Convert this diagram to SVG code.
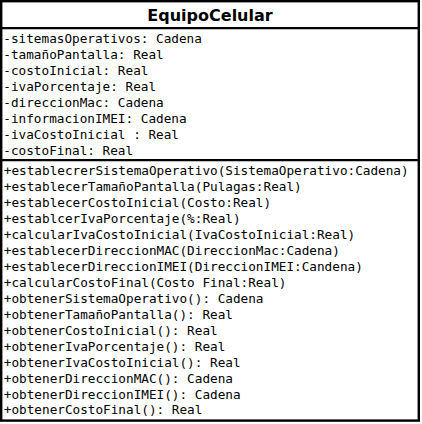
<svg xmlns="http://www.w3.org/2000/svg" width="422" height="424" viewBox="0 0 422 424">
<style>
.box{fill:#fff;stroke:#000;stroke-width:2.4}
.sep{stroke:#000;stroke-width:2.2}
.title{font-family:"DejaVu Sans",sans-serif;font-weight:bold;font-size:16px;fill:#000}
.mem{font-family:"DejaVu Sans Mono","Liberation Mono",monospace;font-size:12.7px;fill:#000}
</style>
<rect width="422" height="424" fill="#fff"/>
<g id="EquipoCelular">
<rect class="box" x="1.2" y="1.2" width="417.6" height="419.4"/>
<line class="sep" x1="1" y1="28.2" x2="419" y2="28.2"/>
<line class="sep" x1="1" y1="160.2" x2="419" y2="160.2"/>
<text class="title" x="210" y="20.5" text-anchor="middle">EquipoCelular</text>
<g class="mem">
<text x="3.3" y="43.3">-sitemasOperativos: Cadena</text>
<text x="3.3" y="59.3">-tamañoPantalla: Real</text>
<text x="3.3" y="75.3">-costoInicial: Real</text>
<text x="3.3" y="91.3">-ivaPorcentaje: Real</text>
<text x="3.3" y="107.3">-direccionMac: Cadena</text>
<text x="3.3" y="123.3">-informacionIMEI: Cadena</text>
<text x="3.3" y="139.3">-ivaCostoInicial : Real</text>
<text x="3.3" y="155.3">-costoFinal: Real</text>
<text x="3.8" y="175">+establecrerSistemaOperativo(SistemaOperativo:Cadena)</text>
<text x="3.8" y="191">+establecerTamañoPantalla(Pulagas:Real)</text>
<text x="3.8" y="207">+establecerCostoInicial(Costo:Real)</text>
<text x="3.8" y="223">+establcerIvaPorcentaje(%:Real)</text>
<text x="3.8" y="239">+calcularIvaCostoInicial(IvaCostoInicial:Real)</text>
<text x="3.8" y="255">+establecerDireccionMAC(DireccionMac:Cadena)</text>
<text x="3.8" y="271">+establecerDireccionIMEI(DireccionIMEI:Candena)</text>
<text x="3.8" y="287">+calcularCostoFinal(Costo Final:Real)</text>
<text x="3.8" y="302.5">+obtenerSistemaOperativo(): Cadena</text>
<text x="3.8" y="318.5">+obtenerTamañoPantalla(): Real</text>
<text x="3.8" y="334.5">+obtenerCostoInicial(): Real</text>
<text x="3.8" y="350.5">+obtenerIvaPorcentaje(): Real</text>
<text x="3.8" y="366.5">+obtenerIvaCostoInicial(): Real</text>
<text x="3.8" y="382.5">+obtenerDireccionMAC(): Cadena</text>
<text x="3.8" y="398.5">+obtenerDireccionIMEI(): Cadena</text>
<text x="3.8" y="414">+obtenerCostoFinal(): Real</text>
</g>
</g>
<g id="connectors"/>
</svg>
